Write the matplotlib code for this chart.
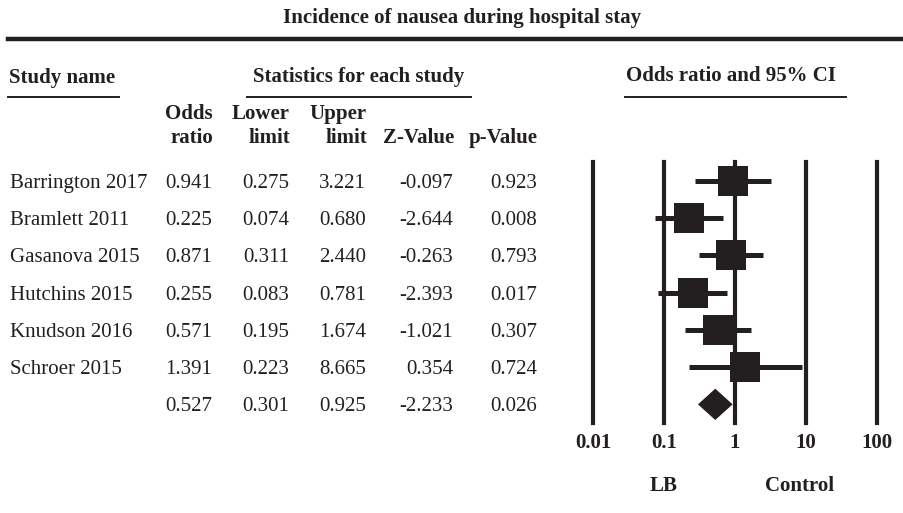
import matplotlib
matplotlib.use('Agg')
import matplotlib.pyplot as plt
from matplotlib.lines import Line2D
from matplotlib.transforms import blended_transform_factory

plt.rcParams['font.family'] = ['Liberation Serif', 'DejaVu Serif']

# data
studies = ['Barrington 2017', 'Bramlett 2011', 'Gasanova 2015', 'Hutchins 2015',
           'Knudson 2016', 'Schroer 2015', '']
odds = [0.941, 0.225, 0.871, 0.255, 0.571, 1.391, 0.527]
lower = [0.275, 0.074, 0.311, 0.083, 0.195, 0.223, 0.301]
upper = [3.221, 0.680, 2.440, 0.781, 1.674, 8.665, 0.925]
zval = [-0.097, -2.644, -0.263, -2.393, -1.021, 0.354, -2.233]
pval = [0.923, 0.008, 0.793, 0.017, 0.307, 0.724, 0.026]
ticks = [0.01, 0.1, 1, 10, 100]
tick_labels = ['0.01', '0.1', '1', '10', '100']

W, H = 904, 513
INK = '#231f20'
FS = 15


def fx(px):
    return px / W


def fy(py):
    return 1 - py / H


fig = plt.figure(figsize=(W / 100, H / 100), dpi=100)

# forest panel: 0.01 at px 593, 100 at px 877; rows from px 162 to 423
ax = fig.add_axes([fx(593), fy(423), fx(877 - 593), (423 - 162) / H])
ax.set_xscale('log')
ax.set_xlim(0.01, 100)
ax.set_ylim(len(studies) - 0.5, -0.5)
for s in ax.spines.values():
    s.set_visible(False)
ax.set_yticks([])
ax.minorticks_off()
ax.set_xticks(ticks)
ax.set_xticklabels(tick_labels, fontweight='bold', fontsize=FS, color=INK)
ax.tick_params(axis='x', length=0, pad=7)

for t in ticks:
    ax.axvline(t, color=INK, lw=3, clip_on=False, zorder=1)

rows = list(range(len(studies)))
for i in rows[:-1]:
    ax.plot([lower[i], upper[i]], [i, i], color=INK, lw=3.6,
            solid_capstyle='butt', zorder=2)
    ax.plot(odds[i], i, marker='s', ms=22.3, mew=0, color=INK, zorder=3)

# pooled estimate diamond
k = rows[-1]
ax.fill([lower[k], odds[k], upper[k], odds[k]], [k, k - 0.42, k, k + 0.42],
        color=INK, lw=0, zorder=3)

lab_y = -(486 - 423) / (423 - 162)
xa = blended_transform_factory(ax.transData, ax.transAxes)
ax.text(0.1, lab_y, 'LB', transform=xa, ha='center', va='center',
        fontweight='bold', fontsize=FS, color=INK)
ax.text(8.2, lab_y, 'Control', transform=xa, ha='center', va='center',
        fontweight='bold', fontsize=FS, color=INK)

# table on the left, rows aligned to the forest panel
tr = blended_transform_factory(fig.transFigure, ax.transData)
col_x = [212, 289, 366, 453, 537]
for i in rows:
    ax.text(fx(10), i, studies[i], transform=tr, ha='left', va='center_baseline',
            fontsize=FS, color=INK, clip_on=False)
    vals = [odds[i], lower[i], upper[i], zval[i], pval[i]]
    for x, v in zip(col_x, vals):
        ax.text(fx(x), i, f'{v:.3f}', transform=tr, ha='right', va='center_baseline',
                fontsize=FS, color=INK, clip_on=False)

# headers
bold = dict(fontweight='bold', fontsize=FS, color=INK, va='center')
fig.text(fx(462), fy(18), 'Incidence of nausea during hospital stay', ha='center', **bold)
fig.text(fx(9), fy(78), 'Study name', ha='left', **bold)
fig.text(fx(359), fy(77), 'Statistics for each study', ha='center', **bold)
fig.text(fx(731), fy(76), 'Odds ratio and 95% CI', ha='center', **bold)
head1 = ['Odds', 'Lower', 'Upper', '', '']
head2 = ['ratio', 'limit', 'limit', 'Z-Value', 'p-Value']
for x, a, b in zip(col_x, head1, head2):
    fig.text(fx(x + 1), fy(114), a, ha='right', **bold)
    fig.text(fx(x + 1), fy(138), b, ha='right', **bold)

# rules
fig.add_artist(Line2D([fx(8), 1], [fy(39), fy(39)], color=INK, lw=3.2))
for a, b in [(8, 119), (247, 471), (625, 846)]:
    fig.add_artist(Line2D([fx(a), fx(b)], [fy(97), fy(97)], color=INK, lw=1.4))

fig.savefig('out.png', dpi=100, facecolor='white')
